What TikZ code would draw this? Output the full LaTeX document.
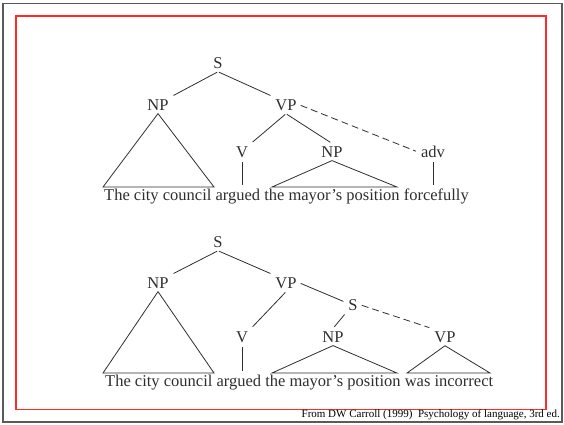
\documentclass[tikz,border=0pt]{standalone}
\usepackage{fontspec}
\setmainfont{Liberation Serif}
\usepackage{tikz}
\definecolor{ink}{HTML}{2E2E2E}
\definecolor{frame}{HTML}{5A5A5A}
\definecolor{slide}{HTML}{FF2A2A}
\tikzset{
  cat/.style={font=\fontsize{16.5}{18}\selectfont,text=ink,inner sep=3pt},
  br/.style={ink,line width=0.8pt,shorten <=1pt,shorten >=2pt},
  dsh/.style={br,dash pattern=on 7pt off 4pt},
  tri/.style={ink,line width=0.8pt,line join=miter},
  sent/.style={font=\fontsize{16.5}{18}\selectfont,text=ink,inner sep=0pt,anchor=base west}
}
\begin{document}
\begin{tikzpicture}[x=1pt,y=-1pt]
\useasboundingbox (0,0) rectangle (564,424);
\draw[frame,line width=1.5pt] (3,3.5) rectangle (562,422);
\draw[slide,line width=1.2pt] (16,16) rectangle (546,409.5);
\coordinate (g1) at (0,187);
\coordinate (g2) at (0,373);
\foreach \n/\t/\x/\y in {s1/S/218/63,np1/NP/158/105,vp1/VP/286/105,v1/V/242/152,np2/NP/332/152,adv/adv/433/152,
  s2/S/218/242,np3/NP/158/283,vp2/VP/286/283,s3/S/353/305,v2/V/242/337,np4/NP/333/337,vp3/VP/445/337}
  \node[cat] (\n) at (\x,\y) {\t};
\node[sent] (w1) at (104,200) {The city council argued the mayor’s position forcefully};
\node[sent] (w2) at (105,386) {The city council argued the mayor’s position was incorrect};
\node[font=\fontsize{11}{12}\selectfont,inner sep=0pt,anchor=base east] (src) at (560,417) {From DW Carroll (1999)\ \ Psychology of language, 3rd ed.};
\draw[br] (s1.south) -- (np1.north east);
\draw[br] (s1.south) -- (vp1.north west);
\draw[br] (vp1.south) -- (v1.north east);
\draw[br] (vp1.south) -- (np2.north);
\draw[dsh] (vp1.east) -- (adv.west);
\draw[br] (v1.south) -- (v1.south |- g1);
\draw[br] (adv.south) -- (adv.south |- g1);
\draw[br] (s2.south) -- (np3.north east);
\draw[br] (s2.south) -- (vp2.north west);
\draw[br] (vp2.south) -- (v2.north east);
\draw[br] (vp2.east) -- (s3.160);
\draw[br] (s3.south west) -- (np4.north);
\draw[dsh] (s3.east) -- (vp3.north west);
\draw[br] (v2.south) -- (v2.south |- g2);
\foreach \n/\a/\b/\g in {np1/103/214/g1,np2/272/397/g1,np3/103/214/g2,np4/272/397/g2,vp3/407/490/g2}
  \draw[tri] (\n.south) -- (\a,0 |- \g) -- (\b,0 |- \g) -- cycle;
\end{tikzpicture}
\end{document}
